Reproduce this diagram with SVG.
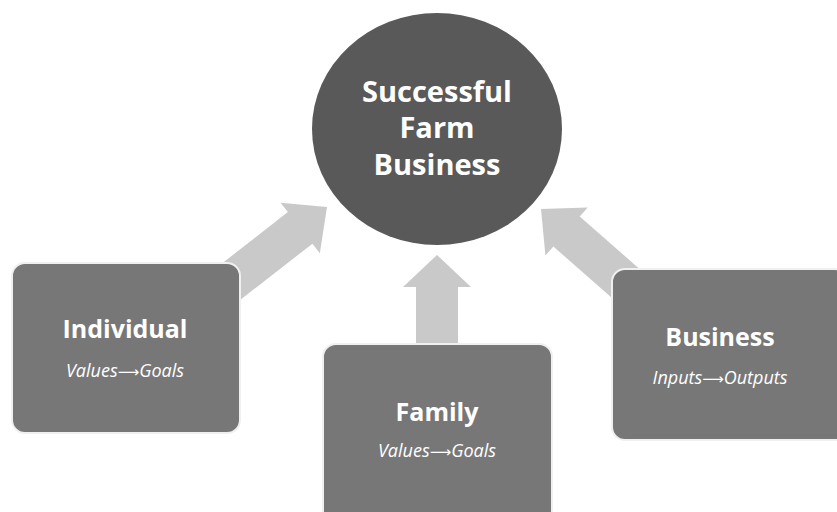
<svg xmlns="http://www.w3.org/2000/svg" width="837" height="512" viewBox="0 0 837 512">
<style>
.box{fill:#777777;stroke:#f0f0f0;stroke-width:2}
.hub{fill:#595959}
.arr{fill:#c9c9c9}
.t{font-family:"Open Sans","Liberation Sans",sans-serif;fill:#ffffff;text-anchor:middle}
.h{font-weight:bold;font-size:25px}
.c{font-weight:bold;font-size:29px}
.s{font-style:italic;font-size:18px}
.a{font-family:"DejaVu Sans",sans-serif;font-style:normal;font-size:15px}
</style>
<rect width="837" height="512" fill="#ffffff"/>
<g id="connectors">
<polygon class="arr" transform="translate(327,207) rotate(-37.9)" points="0,0 -34,-32 -34,-20 -135,-20 -135,20 -34,20 -34,32"/>
<polygon class="arr" transform="translate(541,209) rotate(-138.7)" points="0,0 -34,-32 -34,-20 -125,-20 -125,20 -34,20 -34,32"/>
<polygon class="arr" transform="translate(437,255) rotate(-90)" points="0,0 -32,-34 -32,-21 -92,-21 -92,21 -32,21 -32,34"/>
</g>
<g id="hub">
<ellipse class="hub" cx="437" cy="129" rx="125" ry="116"/>
<text class="t c" x="437" y="102">Successful</text>
<text class="t c" x="437" y="138">Farm</text>
<text class="t c" x="437" y="175">Business</text>
</g>
<g id="individual">
<rect class="box" x="12" y="263" width="228" height="170" rx="13"/>
<text class="t h" x="125" y="338">Individual</text>
<text class="t s" x="125" y="377">Values<tspan class="a">⟶</tspan>Goals</text>
</g>
<g id="business">
<rect class="box" x="612" y="269" width="235" height="171" rx="13"/>
<text class="t h" x="720" y="346">Business</text>
<text class="t s" x="720" y="384">Inputs<tspan class="a">⟶</tspan>Outputs</text>
</g>
<g id="family">
<rect class="box" x="323" y="344" width="229" height="180" rx="13"/>
<text class="t h" x="437" y="421">Family</text>
<text class="t s" x="437" y="457">Values<tspan class="a">⟶</tspan>Goals</text>
</g>
</svg>
